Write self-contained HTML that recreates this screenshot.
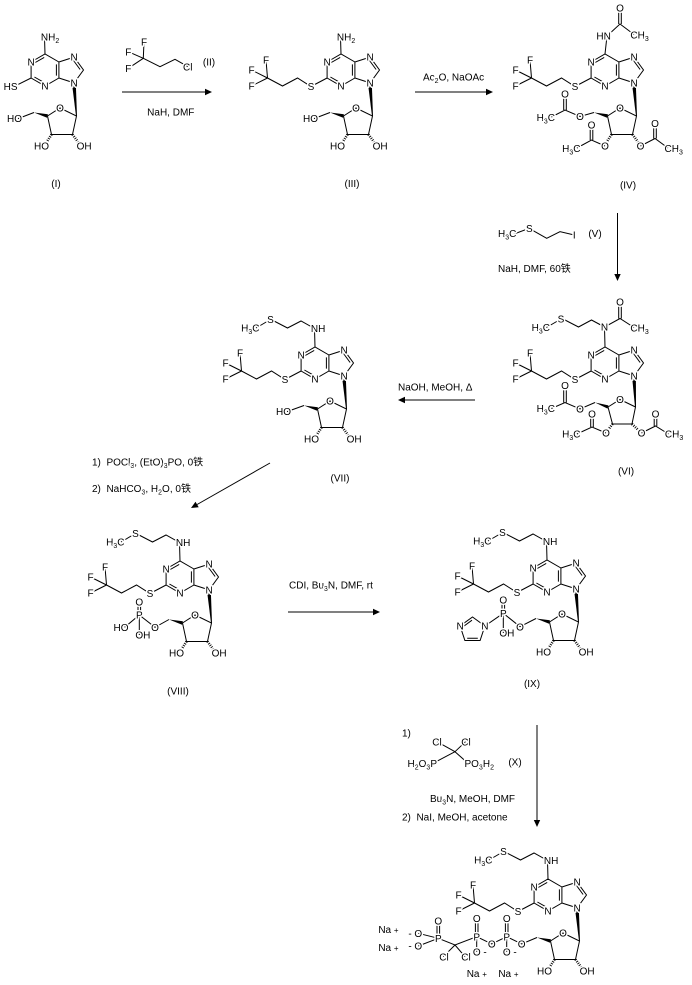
<!DOCTYPE html>
<html><head><meta charset="utf-8">
<style>
html,body{margin:0;padding:0;background:#fff;}
svg{display:block;}
text{font-family:"Liberation Sans","Noto Sans CJK SC",sans-serif;font-size:10px;fill:#000;paint-order:stroke;stroke:#fff;stroke-width:3px;stroke-linejoin:round;}
.m{text-anchor:middle}
.e{text-anchor:end}
tspan.b{font-size:7px}
.bd{fill:none;stroke:#000;stroke-width:1}
</style></head>
<body>
<svg width="692" height="985" viewBox="0 0 692 985" xmlns="http://www.w3.org/2000/svg">
<defs>
<g id="pur"><path class="bd" d="M31.1,62 L45,54 L58.9,62 L58.9,78 L45,86 L31.1,78 Z M58.9,62 L74.1,57.1 L83.5,70 L74.1,82.9 L58.9,78 M34.4,63 L44.2,57.4 M56.4,64.4 L56.4,75.6 M44.2,82.6 L34.4,77 M73.5,60.5 L80.1,69.5"/></g>
<g id="rib">
<path class="bd" d="M47.5,116 L60,108 L76.5,116 L72.5,134.5 L51.5,134.5 Z"/>
<polygon points="72.3,86 75.9,86 77,116 76,116" fill="#000"/>
<polygon points="47.9,114.2 47.1,117.8 34,112.5" fill="#000"/>
<path d="M51.5,134.5 L45.5,144 M72.5,134.5 L79.5,144" fill="none" stroke="#000" stroke-width="2.6" stroke-dasharray="0.9 1.3"/>
</g>
<g id="cf3"><path class="bd" d="M31.1,78 L15,86.5 L1.5,78 L-13.5,86 L-28.5,78 L-30,60 M-28.5,78 L-44.5,70 M-28.5,78 L-44.5,86"/></g>
<g id="nch"><path class="bd" d="M45,54 L44.5,35.5 L31,28 L17.5,35 L4,28 L0.5,26.5 L-14,35"/></g>
</defs>

<!-- Reagent II and arrow 1 -->
<path class="bd" d="M143.3,58.3 L160,66.7 L175,59.3 L188,66.7 M143.3,58.3 L144,41.7 M143.3,58.3 L128.3,51.7 M143.3,58.3 L128.3,68.3"/>
<text class="m" x="144" y="45.3">F</text>
<text class="m" x="128.3" y="55.3">F</text>
<text class="m" x="128.3" y="71.9">F</text>
<text x="183" y="70.3">Cl</text>
<text class="m" x="209" y="65.6">(II)</text>
<path class="bd" d="M122,92 L206,92"/><polygon points="212,92 205,88.8 205,95.2"/>
<text class="m" x="170.8" y="115.3">NaH, DMF</text>

<!-- arrow 2 -->
<path class="bd" d="M415,92 L487,92"/><polygon points="493,92 486,88.8 486,95.2"/>
<text x="423" y="80.3">Ac<tspan class="b" dy="2.5">2</tspan><tspan dy="-2.5">O, NaOAc</tspan></text>

<!-- arrow 3 + reagent V -->
<path class="bd" d="M617.5,213 L617.5,275"/><polygon points="617.5,281 614.3,274 620.7,274"/>
<path class="bd" d="M514,234 L529.3,228.3 L535,231.7 L546.7,238.3 L560,231.7 L574.3,235"/>
<text x="498" y="236.9">H<tspan class="b" dy="2.5">3</tspan><tspan dy="-2.5">C</tspan></text>
<text class="m" x="529.3" y="231.9">S</text>
<text class="m" x="574.3" y="238.6">I</text>
<text class="m" x="595" y="236.9">(V)</text>
<text x="498" y="272">NaH, DMF, 60铁</text>

<!-- arrow 4 -->
<path class="bd" d="M475,400 L404,400"/><polygon points="398,400 405,396.8 405,403.2"/>
<text x="398" y="390.3">NaOH, MeOH, Δ</text>

<!-- arrow 5 -->
<path class="bd" d="M270,463 L197.1,504.5"/><polygon points="191,508 198.7,507.3 195.5,501.7"/>
<text x="92" y="465.3">1)&#160;&#160;POCl<tspan class="b" dy="2.5">3</tspan><tspan dy="-2.5">, (EtO)</tspan><tspan class="b" dy="2.5">3</tspan><tspan dy="-2.5">PO, 0铁</tspan></text>
<text x="92" y="492">2)&#160;&#160;NaHCO<tspan class="b" dy="2.5">3</tspan><tspan dy="-2.5">, H</tspan><tspan class="b" dy="2.5">2</tspan><tspan dy="-2.5">O, 0铁</tspan></text>

<!-- arrow 6 -->
<path class="bd" d="M288,612 L374,612"/><polygon points="380,612 373,608.8 373,615.2"/>
<text x="289" y="588.6">CDI, Bu<tspan class="b" dy="2.5">3</tspan><tspan dy="-2.5">N, DMF, rt</tspan></text>

<!-- arrow 7 + reagent X -->
<path class="bd" d="M537,725 L537,821"/><polygon points="537,827 533.8,820 540.2,820"/>
<text x="402" y="736.6">1)</text>
<path class="bd" d="M455,751.7 L437,741.7 M455,751.7 L465.5,741.7 M455,751.7 L433,763.3 M455,751.7 L468,763.3"/>
<text class="m" x="437" y="745.3">Cl</text>
<text class="m" x="466" y="745.3">Cl</text>
<text class="e" x="437" y="767">H<tspan class="b" dy="2.5">2</tspan><tspan dy="-2.5">O</tspan><tspan class="b" dy="2.5">3</tspan><tspan dy="-2.5">P</tspan></text>
<text x="464.5" y="767">PO<tspan class="b" dy="2.5">3</tspan><tspan dy="-2.5">H</tspan><tspan class="b" dy="2.5">2</tspan></text>
<text class="m" x="515" y="765.3">(X)</text>
<text x="430" y="802">Bu<tspan class="b" dy="2.5">3</tspan><tspan dy="-2.5">N, MeOH, DMF</tspan></text>
<text x="402" y="820.3">2)&#160;&#160;NaI, MeOH, acetone</text>

<!-- Compound I -->
<g transform="translate(0,0)">
<use href="#pur"/><use href="#rib"/>
<path class="bd" d="M45,54 L44.5,37 M31.1,78 L14.2,86.4 M34,112.5 L18,118.6"/>
<text class="m" x="31.1" y="65.6">N</text><text class="m" x="45" y="89.6">N</text>
<text class="m" x="74.1" y="60.7">N</text><text class="m" x="74.1" y="86.5">N</text>
<text class="m" x="60" y="111.6">O</text>
<text x="40.9" y="40.6">NH<tspan class="b" dy="2.5">2</tspan></text>
<text class="e" x="17.5" y="90">HS</text>
<text class="e" x="22" y="122.2">HO</text>
<text class="e" x="49" y="149.6">HO</text>
<text x="76.6" y="149.6">OH</text>
<text class="m" x="56" y="187">(I)</text>
</g>

<!-- Compound III -->
<g transform="translate(296,0)">
<use href="#pur"/><use href="#rib"/><use href="#cf3"/>
<path class="bd" d="M45,54 L44.5,37 M34,112.5 L18,118.6"/>
<text class="m" x="31.1" y="65.6">N</text><text class="m" x="45" y="89.6">N</text>
<text class="m" x="74.1" y="60.7">N</text><text class="m" x="74.1" y="86.5">N</text>
<text class="m" x="60" y="111.6">O</text>
<text x="40.9" y="40.6">NH<tspan class="b" dy="2.5">2</tspan></text>
<text class="m" x="15" y="90.1">S</text>
<text class="m" x="-30" y="63.6">F</text><text class="m" x="-44.5" y="73.6">F</text><text class="m" x="-44.5" y="89.6">F</text>
<text class="e" x="22" y="122.2">HO</text>
<text class="e" x="49" y="149.6">HO</text>
<text x="76.6" y="149.6">OH</text>
<text class="m" x="56" y="187">(III)</text>
</g>

<!-- Compound IV -->
<g transform="translate(560,0)">
<use href="#pur"/><use href="#rib"/><use href="#cf3"/>
<path class="bd" d="M45,54 L47,36 L60,24 L74,34.5 M58.7,24 L58.7,11 M61.3,24 L61.3,11 M34,112.5 L20,116.5 L5,110 L-8.6,117 M3.7,110 L3.7,97 M6.3,110 L6.3,97 M45,146 L31.5,140 L16.9,148 M30.2,140 L30.2,128 M32.8,140 L32.8,128 M80.5,146 L95,138.5 L108,148 M93.7,138.5 L93.7,127 M96.3,138.5 L96.3,127"/>
<text class="m" x="31.1" y="65.6">N</text><text class="m" x="45" y="89.6">N</text>
<text class="m" x="74.1" y="60.7">N</text><text class="m" x="74.1" y="86.5">N</text>
<text class="m" x="60" y="111.6">O</text>
<text class="e" x="50.8" y="39.6">HN</text>
<text class="m" x="60" y="11.6">O</text>
<text x="70.4" y="38.6">CH<tspan class="b" dy="2.5">3</tspan></text>
<text class="m" x="15" y="90.1">S</text>
<text class="m" x="-30" y="63.6">F</text><text class="m" x="-44.5" y="73.6">F</text><text class="m" x="-44.5" y="89.6">F</text>
<text class="m" x="20" y="120.1">O</text>
<text class="m" x="5" y="97.6">O</text>
<text class="e" x="-5" y="120.8">H<tspan class="b" dy="2.5">3</tspan><tspan dy="-2.5">C</tspan></text>
<text class="m" x="45" y="149.6">O</text>
<text class="m" x="31.5" y="128.6">O</text>
<text class="e" x="20.5" y="151.8">H<tspan class="b" dy="2.5">3</tspan><tspan dy="-2.5">C</tspan></text>
<text class="m" x="80.5" y="149.6">O</text>
<text class="m" x="95" y="127.1">O</text>
<text x="104.5" y="151.8">CH<tspan class="b" dy="2.5">3</tspan></text>
<text class="m" x="68" y="188.6">(IV)</text>
</g>

<!-- Compound VI -->
<g transform="translate(560,293)">
<use href="#pur"/><use href="#cf3"/>
<path class="bd" d="M48,114 L60,106.5 L75.5,114 L72,131 L52.5,131 Z"/>
<polygon points="72.3,86 75.9,86 76,114 75,114" fill="#000"/>
<polygon points="48.4,112.4 47.6,115.6 35,109.5" fill="#000"/>
<path d="M52.5,131 L46.5,139 M72,131 L80.5,139" fill="none" stroke="#000" stroke-width="2.6" stroke-dasharray="0.9 1.3"/>
<path class="bd" d="M45,54 L44.5,34 L60,25.5 L74,34.5 M58.7,25.5 L58.7,12 M61.3,25.5 L61.3,12 M44.5,34 L31.5,27 L18.5,34 L5,27 L1,26 L-13.6,34.5 M35,109.5 L20,116 L5,109.5 L-8.6,115.5 M3.7,109.5 L3.7,96 M6.3,109.5 L6.3,96 M46,140 L32,134 L16.9,141 M30.7,134 L30.7,124 M33.3,134 L33.3,124 M81.5,140 L95.5,133 L108.5,141 M94.2,133 L94.2,124 M96.8,133 L96.8,124"/>
<text class="m" x="31.1" y="65.6">N</text><text class="m" x="45" y="89.6">N</text>
<text class="m" x="74.1" y="60.7">N</text><text class="m" x="74.1" y="86.5">N</text>
<text class="m" x="60" y="110.1">O</text>
<text class="m" x="44.5" y="37.6">N</text>
<text class="m" x="60" y="12.6">O</text>
<text x="70.4" y="38.6">CH<tspan class="b" dy="2.5">3</tspan></text>
<text class="m" x="1" y="29.6">S</text>
<text class="e" x="-10" y="38.1">H<tspan class="b" dy="2.5">3</tspan><tspan dy="-2.5">C</tspan></text>
<text class="m" x="15" y="90.1">S</text>
<text class="m" x="-30" y="63.6">F</text><text class="m" x="-44.5" y="73.6">F</text><text class="m" x="-44.5" y="89.6">F</text>
<text class="m" x="20" y="119.6">O</text>
<text class="m" x="5" y="96.1">O</text>
<text class="e" x="-5" y="119">H<tspan class="b" dy="2.5">3</tspan><tspan dy="-2.5">C</tspan></text>
<text class="m" x="46" y="143.6">O</text>
<text class="m" x="32" y="124.6">O</text>
<text class="e" x="20.5" y="144.6">H<tspan class="b" dy="2.5">3</tspan><tspan dy="-2.5">C</tspan></text>
<text class="m" x="81.5" y="143.6">O</text>
<text class="m" x="95.5" y="124.6">O</text>
<text x="104.9" y="144.6">CH<tspan class="b" dy="2.5">3</tspan></text>
<text class="m" x="66" y="181.6">(VI)</text>
</g>

<!-- Compound VII -->
<g transform="translate(270,293)">
<use href="#pur"/><use href="#rib"/><use href="#cf3"/><use href="#nch"/>
<path class="bd" d="M34,112.5 L17,118.6"/>
<text class="m" x="31.1" y="65.6">N</text><text class="m" x="45" y="89.6">N</text>
<text class="m" x="74.1" y="60.7">N</text><text class="m" x="74.1" y="86.5">N</text>
<text class="m" x="60" y="111.6">O</text>
<text x="40.9" y="39.1">NH</text>
<text class="m" x="0.5" y="30.1">S</text>
<text class="e" x="-10.5" y="38.5">H<tspan class="b" dy="2.5">3</tspan><tspan dy="-2.5">C</tspan></text>
<text class="m" x="15" y="90.1">S</text>
<text class="m" x="-30" y="63.6">F</text><text class="m" x="-44.5" y="73.6">F</text><text class="m" x="-44.5" y="89.6">F</text>
<text class="e" x="21" y="122.2">HO</text>
<text class="e" x="49" y="149.6">HO</text>
<text x="76.6" y="149.6">OH</text>
<text class="m" x="70" y="188.6">(VII)</text>
</g>

<!-- Compound VIII -->
<g transform="translate(135,507)">
<use href="#pur"/><use href="#rib"/><use href="#cf3"/><use href="#nch"/>
<path class="bd" d="M34,112.5 L20,120.3 L4.3,108 L-10.4,120.3 M4.3,108 L4.3,128 M3,108 L3,97 M5.6,108 L5.6,97"/>
<text class="m" x="31.1" y="65.6">N</text><text class="m" x="45" y="89.6">N</text>
<text class="m" x="74.1" y="60.7">N</text><text class="m" x="74.1" y="86.5">N</text>
<text class="m" x="60" y="111.6">O</text>
<text x="40.9" y="39.1">NH</text>
<text class="m" x="0.5" y="30.1">S</text>
<text class="e" x="-10.5" y="38.5">H<tspan class="b" dy="2.5">3</tspan><tspan dy="-2.5">C</tspan></text>
<text class="m" x="15" y="90.1">S</text>
<text class="m" x="-30" y="63.6">F</text><text class="m" x="-44.5" y="73.6">F</text><text class="m" x="-44.5" y="89.6">F</text>
<text class="m" x="4.3" y="111.6">P</text>
<text class="m" x="4.3" y="98.3">O</text>
<text class="e" x="-6.5" y="123.9">HO</text>
<text x="0.4" y="131.6">OH</text>
<text class="m" x="20" y="123.9">O</text>
<text class="e" x="49" y="149.6">HO</text>
<text x="76.6" y="149.6">OH</text>
<text class="m" x="43" y="187.6">(VIII)</text>
</g>

<!-- Compound IX -->
<g transform="translate(502,506)">
<use href="#pur"/><use href="#rib"/><use href="#cf3"/><use href="#nch"/>
<path class="bd" d="M34,112.5 L18,120.7 L1.3,107.3 L-17.1,120 M1.3,107.3 L1.3,127 M0,107.3 L0,97 M2.6,107.3 L2.6,97 M-17.1,120 L-29.5,111 L-41.9,120 L-37.1,134.5 L-21.9,134.5 Z M-30,114.2 L-38.6,120.5 M-34.8,132.2 L-24.2,132.2"/>
<text class="m" x="31.1" y="65.6">N</text><text class="m" x="45" y="89.6">N</text>
<text class="m" x="74.1" y="60.7">N</text><text class="m" x="74.1" y="86.5">N</text>
<text class="m" x="60" y="111.6">O</text>
<text x="40.9" y="39.1">NH</text>
<text class="m" x="0.5" y="30.1">S</text>
<text class="e" x="-10.5" y="38.5">H<tspan class="b" dy="2.5">3</tspan><tspan dy="-2.5">C</tspan></text>
<text class="m" x="15" y="90.1">S</text>
<text class="m" x="-30" y="63.6">F</text><text class="m" x="-44.5" y="73.6">F</text><text class="m" x="-44.5" y="89.6">F</text>
<text class="m" x="1.3" y="110.9">P</text>
<text class="m" x="1.3" y="97.6">O</text>
<text x="-2.6" y="130.6">OH</text>
<text class="m" x="18" y="124.3">O</text>
<text class="m" x="-17.1" y="123.6">N</text>
<text class="m" x="-41.9" y="123.6">N</text>
<text class="e" x="49" y="149.6">HO</text>
<text x="76.6" y="149.6">OH</text>
<text class="m" x="30" y="180.9">(IX)</text>
</g>

<!-- Final compound -->
<g transform="translate(503,825)">
<use href="#pur"/><use href="#rib"/><use href="#cf3"/><use href="#nch"/>
<path class="bd" d="M34,112.5 L18.7,119 L3.7,111.7 L-11.3,119 L-26.3,111.7 L-48,120 L-64.7,113.3 M3.7,111.7 L3.7,126.7 M-26.3,111.7 L-26.3,126.7 M2.4,111.7 L2.4,97 M5,111.7 L5,97 M-27.6,111.7 L-27.6,97 M-25,111.7 L-25,97 M-66,113.3 L-66,99.5 M-63.4,113.3 L-63.4,99.5 M-48,120 L-59.7,131.7 M-48,120 L-38,131.7 M-64.7,113.3 L-84.7,108.3 M-64.7,113.3 L-84.7,121"/>
<text class="m" x="31.1" y="65.6">N</text><text class="m" x="45" y="89.6">N</text>
<text class="m" x="74.1" y="60.7">N</text><text class="m" x="74.1" y="86.5">N</text>
<text class="m" x="60" y="111.6">O</text>
<text x="40.9" y="39.1">NH</text>
<text class="m" x="0.5" y="30.1">S</text>
<text class="e" x="-10.5" y="38.5">H<tspan class="b" dy="2.5">3</tspan><tspan dy="-2.5">C</tspan></text>
<text class="m" x="15" y="90.1">S</text>
<text class="m" x="-30" y="63.6">F</text><text class="m" x="-44.5" y="73.6">F</text><text class="m" x="-44.5" y="89.6">F</text>
<text class="m" x="3.7" y="115.3">P</text>
<text class="m" x="-26.3" y="115.3">P</text>
<text class="m" x="-64.7" y="116.9">P</text>
<text class="m" x="3.7" y="96.9">O</text>
<text class="m" x="-26.3" y="96.9">O</text>
<text class="m" x="-64.7" y="99.3">O</text>
<text class="m" x="18.7" y="122.6">O</text>
<text class="m" x="-11.3" y="122.6">O</text>
<text x="-0.2" y="130.3">O -</text>
<text x="-30.2" y="130.3">O -</text>
<text class="e" x="-80.8" y="111.9">- O</text>
<text class="e" x="-80.8" y="124.6">- O</text>
<text class="m" x="-59" y="135.3">Cl</text>
<text class="m" x="-37" y="135.3">Cl</text>
<text x="-124.7" y="107.9">Na <tspan font-size="8">+</tspan></text>
<text x="-124.7" y="125.9">Na <tspan font-size="8">+</tspan></text>
<text x="-36.3" y="151.9">Na <tspan font-size="8">+</tspan></text>
<text x="-4.7" y="151.9">Na <tspan font-size="8">+</tspan></text>
<text class="e" x="49" y="149.6">HO</text>
<text x="76.6" y="149.6">OH</text>
</g>
</svg>
</body></html>
